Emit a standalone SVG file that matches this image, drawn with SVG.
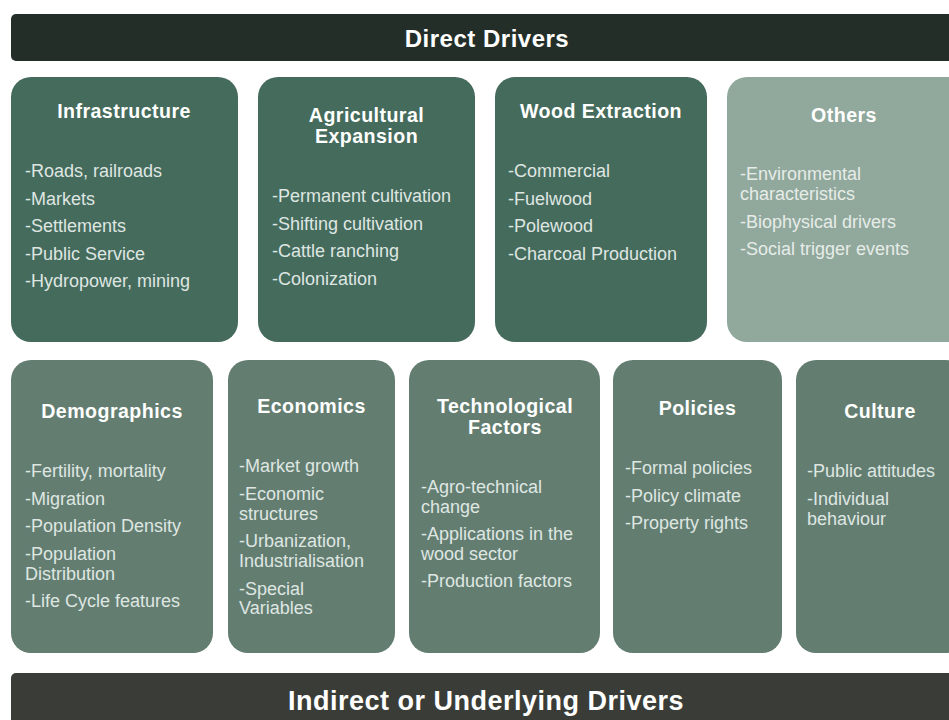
<svg xmlns="http://www.w3.org/2000/svg" width="949" height="720" viewBox="0 0 949 720">
<style>
.bg{fill:#ffffff}
.bar-top{fill:#232e28}
.bar-bot{fill:#3a3d37}
.dark{fill:#456b5c}
.mid{fill:#637e71}
.light{fill:#91a89c}
.h{font-family:"Liberation Sans",Arial,sans-serif;font-weight:bold;fill:#ffffff;text-anchor:middle;letter-spacing:0.5px}
.t{font-family:"Liberation Sans",Arial,sans-serif;font-weight:bold;font-size:19.6px;fill:#ffffff;text-anchor:middle;letter-spacing:0.45px}
.i{font-family:"Liberation Sans",Arial,sans-serif;font-size:18px;fill:#dfe6e2}
.il{font-family:"Liberation Sans",Arial,sans-serif;font-size:18px;fill:#e6ece8}
</style>
<rect class="bg" x="0" y="0" width="949" height="720"/>
<g id="direct-drivers">
<rect class="bar-top" x="11" y="14" width="960" height="47" rx="5"/>
<text class="h" x="487" y="47" font-size="24">Direct Drivers</text>
</g>
<g id="infrastructure">
<rect class="dark" x="11" y="77" width="227" height="265" rx="20"/>
<text class="t" x="124" y="118">Infrastructure</text>
<text class="i" x="25" y="177">-Roads, railroads</text>
<text class="i" x="25" y="204.5">-Markets</text>
<text class="i" x="25" y="232">-Settlements</text>
<text class="i" x="25" y="259.5">-Public Service</text>
<text class="i" x="25" y="287">-Hydropower, mining</text>
</g>
<g id="agricultural-expansion">
<rect class="dark" x="258" y="77" width="217" height="265" rx="20"/>
<text class="t" x="366.5" y="122">Agricultural</text>
<text class="t" x="366.5" y="143">Expansion</text>
<text class="i" x="272" y="202">-Permanent cultivation</text>
<text class="i" x="272" y="229.5">-Shifting cultivation</text>
<text class="i" x="272" y="257">-Cattle ranching</text>
<text class="i" x="272" y="284.5">-Colonization</text>
</g>
<g id="wood-extraction">
<rect class="dark" x="495" y="77" width="212" height="265" rx="20"/>
<text class="t" x="601" y="118">Wood Extraction</text>
<text class="i" x="508" y="177">-Commercial</text>
<text class="i" x="508" y="204.5">-Fuelwood</text>
<text class="i" x="508" y="232">-Polewood</text>
<text class="i" x="508" y="259.5">-Charcoal Production</text>
</g>
<g id="others">
<rect class="light" x="727" y="77" width="240" height="265" rx="20"/>
<text class="t" x="844" y="122">Others</text>
<text class="il" x="740" y="180">-Environmental</text>
<text class="il" x="740" y="200">characteristics</text>
<text class="il" x="740" y="227.5">-Biophysical drivers</text>
<text class="il" x="740" y="255">-Social trigger events</text>
</g>
<g id="demographics">
<rect class="mid" x="11" y="360" width="202" height="293" rx="20"/>
<text class="t" x="112" y="418">Demographics</text>
<text class="i" x="25" y="477">-Fertility, mortality</text>
<text class="i" x="25" y="505">-Migration</text>
<text class="i" x="25" y="532">-Population Density</text>
<text class="i" x="25" y="559.5">-Population</text>
<text class="i" x="25" y="579.5">Distribution</text>
<text class="i" x="25" y="607">-Life Cycle features</text>
</g>
<g id="economics">
<rect class="mid" x="228" y="360" width="167" height="293" rx="20"/>
<text class="t" x="311.5" y="413">Economics</text>
<text class="i" x="239" y="472">-Market growth</text>
<text class="i" x="239" y="499.5">-Economic</text>
<text class="i" x="239" y="519.5">structures</text>
<text class="i" x="239" y="547">-Urbanization,</text>
<text class="i" x="239" y="567">Industrialisation</text>
<text class="i" x="239" y="594.5">-Special</text>
<text class="i" x="239" y="614">Variables</text>
</g>
<g id="technological-factors">
<rect class="mid" x="409" y="360" width="191" height="293" rx="20"/>
<text class="t" x="505" y="412.5">Technological</text>
<text class="t" x="505" y="433.5">Factors</text>
<text class="i" x="421" y="492.5">-Agro-technical</text>
<text class="i" x="421" y="512.5">change</text>
<text class="i" x="421" y="540">-Applications in the</text>
<text class="i" x="421" y="560">wood sector</text>
<text class="i" x="421" y="587">-Production factors</text>
</g>
<g id="policies">
<rect class="mid" x="613" y="360" width="169" height="293" rx="20"/>
<text class="t" x="697.5" y="415">Policies</text>
<text class="i" x="625" y="474">-Formal policies</text>
<text class="i" x="625" y="501.5">-Policy climate</text>
<text class="i" x="625" y="529">-Property rights</text>
</g>
<g id="culture">
<rect class="mid" x="796" y="360" width="170" height="293" rx="20"/>
<text class="t" x="880" y="418">Culture</text>
<text class="i" x="807" y="477">-Public attitudes</text>
<text class="i" x="807" y="505">-Individual</text>
<text class="i" x="807" y="524.5">behaviour</text>
</g>
<g id="indirect-drivers">
<rect class="bar-bot" x="11" y="673" width="960" height="60" rx="5"/>
<text class="h" x="486" y="710" font-size="27">Indirect or Underlying Drivers</text>
</g>
<g id="connectors"></g>
</svg>
